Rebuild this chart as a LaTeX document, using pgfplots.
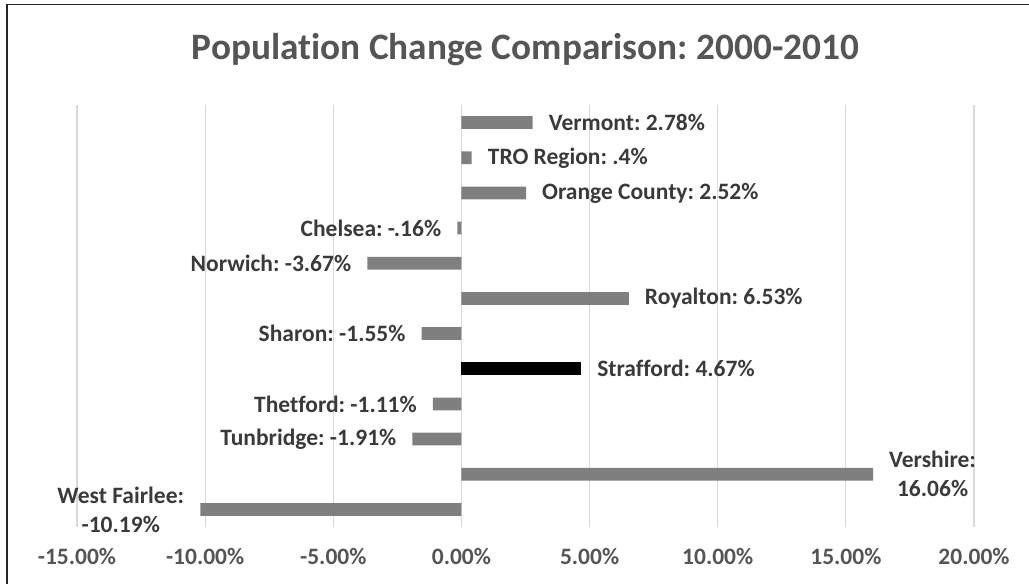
\documentclass[border=0pt]{standalone}
\usepackage{pgfplots}
\pgfplotsset{compat=1.18}
\usepackage{fontspec}
\setmainfont{Carlito}[Ligatures=NoCommon]
\frenchspacing
\definecolor{bargray}{HTML}{7F7F7F}
\definecolor{gridgray}{HTML}{D9D9D9}
\definecolor{labc}{HTML}{3A3A3A}
\definecolor{tickc}{HTML}{555555}
\begin{document}
\begin{tikzpicture}
\useasboundingbox (-77bp,-57bp) rectangle (952bp,527bp);
\draw[line width=1.3bp, color=black!85] (952bp,522.5bp) -- (-70bp,522.5bp) -- (-70bp,-57bp);
\node[anchor=base, font=\fontsize{37.3bp}{40bp}\selectfont\bfseries\frenchspacing, color=tickc] at (448.5bp,467.7bp) {Population Change Comparison: 2000-2010};
\begin{axis}[
  at={(0,0)}, anchor=south west,
  scale only axis, width=897bp, height=422bp,
  xmin=-15, xmax=20, ymin=-0.5, ymax=11.5, y dir=reverse,
  clip=false,
  axis line style={draw=none},
  major tick length=0pt,
  ytick=\empty,
  xtick={-15,-10,-5,0,5,10,15,20},
  xticklabels={-15.00\%,-10.00\%,-5.00\%,0.00\%,5.00\%,10.00\%,15.00\%,20.00\%},
  xticklabel style={anchor=base, yshift=-37bp, font=\fontsize{23.5bp}{28bp}\selectfont\bfseries, text=tickc},
  xmajorgrids, grid style={gridgray, line width=1.1bp},
  xbar, bar width=12.7bp, bar shift=0pt,
  point meta=explicit symbolic,
  nodes near coords,
]
\addplot[fill=bargray, draw=none,
  every node near coord/.style={anchor=west, inner sep=0pt, xshift=16bp, align=center, font=\fontsize{23.5bp}{29bp}\selectfont\bfseries\frenchspacing, text=labc}]
  coordinates {
  (2.78,0) [Vermont: 2.78\%]
  (0.4,1) [TRO Region: .4\%]
  (2.52,2) [Orange County: 2.52\%]
  (6.53,5) [Royalton: 6.53\%]
  (16.06,10) [Vershire:\\16.06\%]
  };
\addplot[fill=bargray, draw=none,
  every node near coord/.style={anchor=east, inner sep=0pt, xshift=-16bp, align=center, font=\fontsize{23.5bp}{29bp}\selectfont\bfseries\frenchspacing, text=labc}]
  coordinates {
  (-0.16,3) [Chelsea: -.16\%]
  (-3.67,4) [Norwich: -3.67\%]
  (-1.55,6) [Sharon: -1.55\%]
  (-1.11,8) [Thetford: -1.11\%]
  (-1.91,9) [Tunbridge: -1.91\%]
  (-10.19,11) [West Fairlee:\\-10.19\%]
  };
\addplot[fill=black, draw=none,
  every node near coord/.style={anchor=west, inner sep=0pt, xshift=16bp, align=center, font=\fontsize{23.5bp}{29bp}\selectfont\bfseries\frenchspacing, text=labc}]
  coordinates {
  (4.67,7) [Strafford: 4.67\%]
  };
\end{axis}
\end{tikzpicture}
\end{document}
